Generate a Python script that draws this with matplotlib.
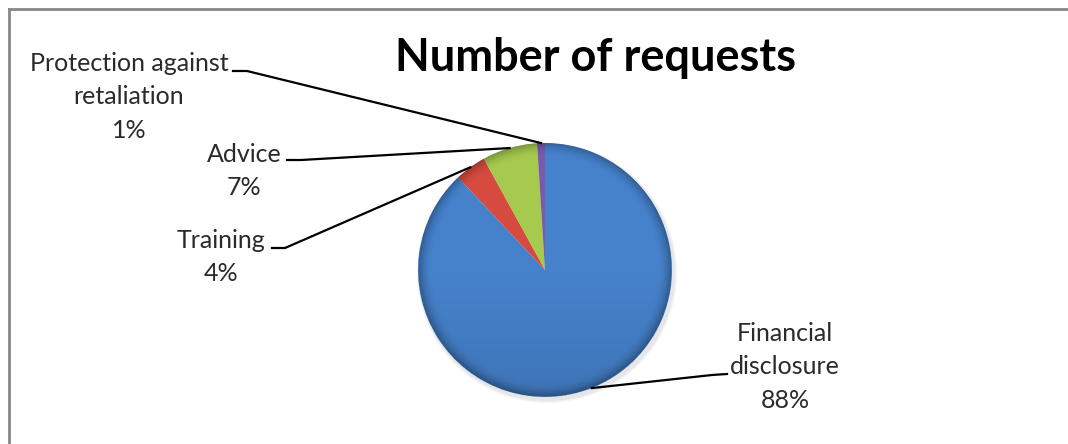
import matplotlib.pyplot as plt
import numpy as np
from matplotlib.lines import Line2D
from matplotlib.patches import Circle

categories = ['Financial\ndisclosure', 'Training', 'Advice', 'Protection against\nretaliation']
shares = [88, 4, 7, 1]
colors = ['#4682CC', '#D64A40', '#A6CA4E', '#7B5AAA']

W, H = 1068, 444
fig = plt.figure(figsize=(W / 100, H / 100), dpi=100)
ax = fig.add_axes([0, 0, 1, 1])

cx, cy, r = 545, H - 270, 127

# soft shadow
for k, a in enumerate([0.10, 0.10, 0.12]):
    ax.add_patch(Circle((cx + 2, cy - 3), r + 3 - k, color='#b0b0b0', alpha=a, lw=0, zorder=1))

wedges, _ = ax.pie(shares, colors=colors, startangle=90, counterclock=False,
                   center=(cx, cy), radius=r, frame=True,
                   wedgeprops=dict(edgecolor='none', zorder=2))
ax.set_xlim(0, W)
ax.set_ylim(0, H)
ax.set_aspect('equal')
ax.axis('off')

# radial shading to mimic the bevel look
n = 400
yy, xx = np.mgrid[-1:1:n * 1j, -1:1:n * 1j]
rr = np.sqrt(xx ** 2 + yy ** 2)
shade = np.zeros((n, n, 4))
alpha = np.clip((rr - 0.88) / 0.12, 0, 1) ** 2 * 0.30
alpha += np.clip(yy, 0, 1) * 0.10
shade[..., 3] = np.where(rr <= 1, alpha, 0)
im = ax.imshow(shade, extent=(cx - r, cx + r, cy - r, cy + r), origin='upper', zorder=3)
im.set_clip_path(Circle((cx, cy), r, transform=ax.transData))

# label layout: text centre, stub start/end (pixel coords, y from top)
text_pos = {
    'Financial\ndisclosure': (785, 367),
    'Training': (221, 257),
    'Advice': (244, 171),
    'Protection against\nretaliation': (129, 97),
}
stub = {
    'Financial\ndisclosure': ((727, 374), (712, 375)),
    'Training': ((272, 248), (285, 248)),
    'Advice': ((287, 160), (301, 160)),
    'Protection against\nretaliation': ((233, 71), (247, 71)),
}

font = 'Lato'
for w, cat, val in zip(wedges, categories, shares):
    mid = np.deg2rad((w.theta1 + w.theta2) / 2)
    ex, ey = cx + r * np.cos(mid), cy + r * np.sin(mid)
    (sx0, sy0), (sx1, sy1) = stub[cat]
    ax.add_line(Line2D([sx0, sx1, ex], [H - sy0, H - sy1, ey], color='black', lw=1.6, zorder=4))
    tx, ty = text_pos[cat]
    ax.text(tx, H - ty, f'{cat}\n{val}%', ha='center', va='center', fontsize=18,
            family=font, color='#2a2a2a', linespacing=1.56, zorder=5)

ax.text(596, H - 58, 'Number of requests', ha='center', va='center', fontsize=32.5,
        fontweight='bold', family=font, color='black')

# chart frame (top and left edges visible)
fig.add_artist(Line2D([9 / W, 9 / W], [0, 1 - 9 / H], transform=fig.transFigure, color='#888888', lw=2))
fig.add_artist(Line2D([9 / W, 1], [1 - 9 / H, 1 - 9 / H], transform=fig.transFigure, color='#888888', lw=2))

fig.savefig('out.png', dpi=100)
